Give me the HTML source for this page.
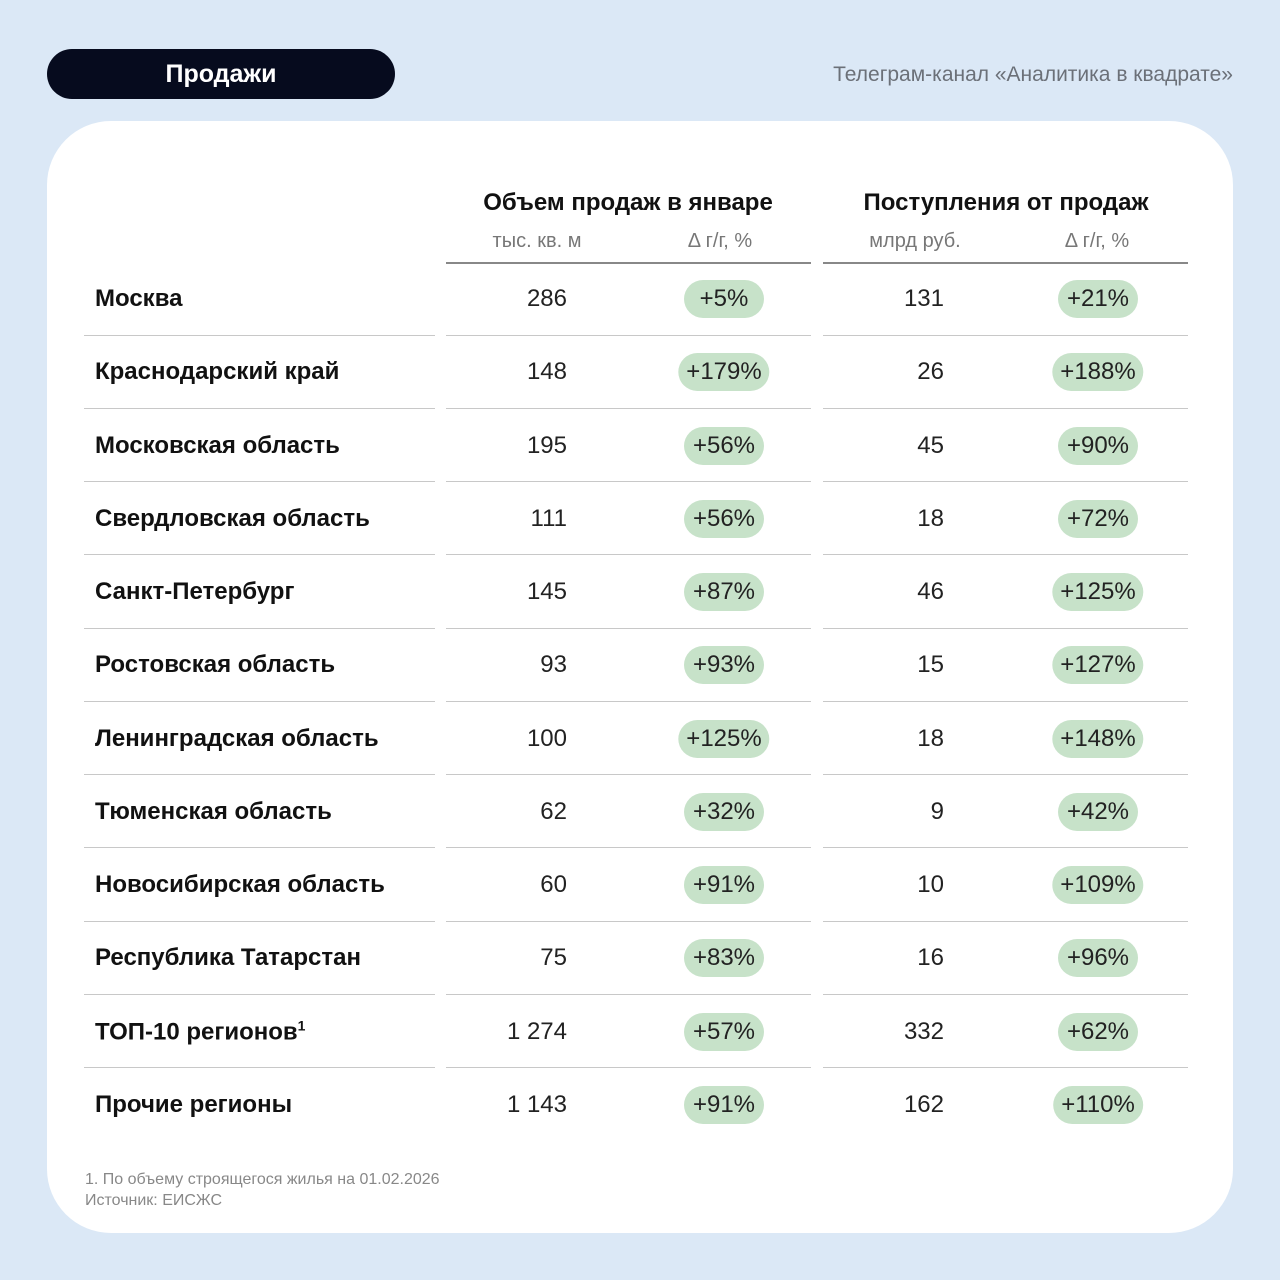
<!DOCTYPE html>
<html><head><meta charset="utf-8"><style>
*{margin:0;padding:0;box-sizing:border-box}
body{width:1280px;height:1280px;background:#dbe8f6;font-family:"Liberation Sans",sans-serif;position:relative;overflow:hidden}
.pill{position:absolute;left:47px;top:49px;width:348px;height:50px;background:#060b1e;border-radius:25px;color:#fff;font-weight:bold;font-size:25px;text-align:center;line-height:50px}
.tg{position:absolute;right:47px;top:63px;color:#6b7078;font-size:21px}
.card{position:absolute;left:47px;top:121px;width:1186px;height:1112px;background:#fff;border-radius:64px}
.a{position:absolute;white-space:nowrap}
.h{font-weight:bold;font-size:24px;color:#111;transform:translateX(-50%)}
.s{font-size:20px;color:#777;transform:translateX(-50%)}
.ln{position:absolute;height:1px;background:#c8c8c8}
.hl{position:absolute;height:1.5px;background:#888}
.lab{position:absolute;left:95px;font-weight:bold;font-size:24px;color:#111;transform:translateY(-50%)}
.num{position:absolute;font-size:24px;color:#222;transform:translate(-100%,-50%);text-align:right}
.g{position:absolute;background:#c7e2c9;border-radius:19px;height:38px;line-height:38px;font-size:24px;color:#222;padding:0 8px;transform:translate(-50%,-50%)}
.foot{position:absolute;left:85px;font-size:16px;color:#888}
</style></head><body>
<div class="pill">Продажи</div>
<div class="tg">Телеграм-канал «Аналитика в квадрате»</div>
<div class="card"></div>
<div class="a h" style="left:628px;top:189px">Объем продаж в январе</div>
<div class="a h" style="left:1006px;top:189px">Поступления от продаж</div>
<div class="a s" style="left:537px;top:230px">тыс. кв. м</div>
<div class="a s" style="left:720px;top:230px">Δ г/г, %</div>
<div class="a s" style="left:915px;top:230px">млрд руб.</div>
<div class="a s" style="left:1097px;top:230px">Δ г/г, %</div>
<div class="hl" style="left:446px;top:262px;width:365px"></div>
<div class="hl" style="left:823px;top:262px;width:365px"></div>
<div id="rows"></div>
<div class="foot" style="top:1171px">1. По объему строящегося жилья на 01.02.2026</div>
<div class="foot" style="top:1192px">Источник: ЕИСЖС</div>
<script>
var d=[["Москва","286","+5%","131","+21%"],["Краснодарский край","148","+179%","26","+188%"],["Московская область","195","+56%","45","+90%"],["Свердловская область","111","+56%","18","+72%"],["Санкт-Петербург","145","+87%","46","+125%"],["Ростовская область","93","+93%","15","+127%"],["Ленинградская область","100","+125%","18","+148%"],["Тюменская область","62","+32%","9","+42%"],["Новосибирская область","60","+91%","10","+109%"],["Республика Татарстан","75","+83%","16","+96%"],["ТОП-10 регионов<sup style='font-size:14px'>1</sup>","1 274","+57%","332","+62%"],["Прочие регионы","1 143","+91%","162","+110%"]];
var h="";
d.forEach(function(r,i){var y=Math.round(299+i*73.25);
h+='<div class="lab" style="top:'+y+'px">'+r[0]+'</div>';
h+='<div class="num" style="left:567px;top:'+y+'px">'+r[1]+'</div>';
h+='<div class="g" style="left:724px;top:'+y+'px;min-width:80px;text-align:center">'+r[2]+'</div>';
h+='<div class="num" style="left:944px;top:'+y+'px">'+r[3]+'</div>';
h+='<div class="g" style="left:1098px;top:'+y+'px;min-width:80px;text-align:center">'+r[4]+'</div>';
if(i<11){var ly=Math.round(298+i*73.25+36.6);
h+='<div class="ln" style="left:84px;width:351px;top:'+ly+'px"></div><div class="ln" style="left:446px;width:365px;top:'+ly+'px"></div><div class="ln" style="left:823px;width:365px;top:'+ly+'px"></div>';}
});
document.getElementById("rows").innerHTML=h;
</script>
</body></html>
